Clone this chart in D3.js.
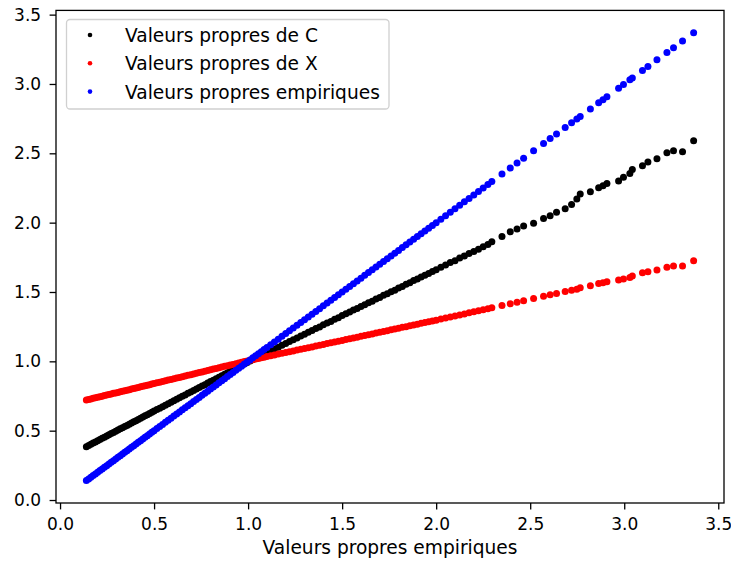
<!DOCTYPE html>
<html>
<head>
<meta charset="utf-8">
<script src="https://cdn.jsdelivr.net/npm/d3@7"></script>
<style>
  html, body { margin: 0; padding: 0; background: #fff; }
  svg { display: block; font-family: "DejaVu Sans", sans-serif; }
</style>
</head>
<body>
<svg id="chart" width="731" height="565"></svg>
<script>
// Empirical eigenvalues (x axis; also the y of the blue series)
const empirical = [
  0.140,0.152,0.164,0.176,0.188,0.200,0.212,0.224,0.236,0.248,0.260,0.272,0.284,0.296,0.308,0.320,
  0.332,0.344,0.356,0.368,0.380,0.392,0.404,0.416,0.428,0.440,0.452,0.464,0.476,0.488,0.500,
  0.515,0.530,0.545,0.560,0.575,0.590,0.605,0.620,0.635,0.650,0.665,0.680,0.695,0.710,0.725,0.740,
  0.755,0.770,0.785,0.800,0.815,0.830,0.845,0.860,0.875,0.890,0.905,0.920,0.935,0.950,0.965,0.980,
  0.995,1.010,1.025,1.040,1.055,1.070,1.085,1.100,
  1.12,1.14,1.16,1.18,1.20,1.22,1.24,1.26,1.28,1.30,1.32,1.34,1.36,1.38,1.40,1.42,1.44,1.46,1.48,1.50,
  1.52,1.54,1.56,1.58,1.60,1.62,1.64,1.66,1.68,1.70,1.72,1.74,1.76,1.78,1.80,1.82,1.84,1.86,1.88,1.90,
  1.92,1.94,1.96,1.98,2.00,
  2.025,2.05,2.075,2.10,2.125,2.15,2.175,2.20,2.225,2.25,2.275,
  2.296,2.350,2.394,2.430,2.465,2.518,2.571,2.606,2.640,2.686,2.720,2.748,2.766,2.820,2.864,2.887,
  2.908,2.970,2.996,3.030,3.043,3.097,3.126,3.174,3.227,3.262,3.310,3.369
];

// Eigenvalues of C (black)
const eigC = [
  0.385,0.394,0.402,0.411,0.419,0.428,0.436,0.445,0.453,0.462,0.470,0.479,0.487,0.496,0.504,0.513,
  0.521,0.530,0.538,0.547,0.555,0.564,0.572,0.581,0.589,0.598,0.607,0.615,0.624,0.632,0.641,
  0.652,0.662,0.673,0.684,0.694,0.705,0.716,0.726,0.737,0.748,0.758,0.769,0.779,0.790,0.801,0.811,
  0.822,0.832,0.843,0.854,0.864,0.875,0.886,0.896,0.907,0.917,0.928,0.939,0.949,0.960,0.971,0.981,
  0.992,1.002,1.012,1.022,1.032,1.042,1.052,1.062,
  1.075,1.089,1.101,1.116,1.128,1.143,1.155,1.169,1.183,1.195,1.210,1.222,1.237,1.248,1.263,1.276,
  1.288,1.303,1.315,1.330,1.343,1.355,1.370,1.381,1.396,1.408,1.423,1.434,1.449,1.461,1.476,1.487,
  1.502,1.513,1.529,1.540,1.555,1.566,1.582,1.593,1.608,1.620,1.633,1.647,1.661,
  1.678,1.694,1.712,1.726,1.745,1.759,1.778,1.792,1.808,1.826,1.842,
  1.862,1.900,1.934,1.955,1.975,1.995,2.030,2.050,2.075,2.100,2.130,2.170,2.206,2.223,2.252,2.266,
  2.283,2.300,2.327,2.355,2.384,2.410,2.437,2.461,2.504,2.518,2.511,2.591
];

// Eigenvalues of X (red)
const eigX = [
  0.721,0.725,0.729,0.733,0.737,0.741,0.745,0.749,0.753,0.757,0.761,0.765,0.769,0.772,0.776,0.780,
  0.784,0.788,0.792,0.796,0.800,0.804,0.808,0.812,0.816,0.820,0.824,0.828,0.832,0.836,0.840,
  0.845,0.850,0.855,0.860,0.865,0.869,0.874,0.879,0.884,0.889,0.894,0.899,0.904,0.909,0.914,0.919,
  0.924,0.929,0.934,0.939,0.944,0.949,0.954,0.959,0.964,0.968,0.973,0.978,0.983,0.988,0.993,0.998,
  1.003,1.008,1.012,1.017,1.021,1.026,1.030,1.034,
  1.040,1.046,1.052,1.058,1.063,1.069,1.075,1.081,1.087,1.093,1.098,1.104,1.110,1.116,1.122,1.128,
  1.134,1.139,1.145,1.151,1.157,1.163,1.169,1.174,1.180,1.186,1.192,1.198,1.204,1.210,1.215,1.221,
  1.227,1.233,1.239,1.245,1.250,1.256,1.262,1.268,1.274,1.280,1.286,1.291,1.297,
  1.305,1.312,1.320,1.327,1.335,1.342,1.350,1.357,1.365,1.372,1.380,
  1.386,1.402,1.415,1.426,1.437,1.453,1.469,1.480,1.490,1.503,1.512,1.520,1.531,1.545,1.562,1.567,
  1.574,1.586,1.593,1.605,1.615,1.639,1.646,1.658,1.678,1.687,1.687,1.725
];

const tickValues = [0.0, 0.5, 1.0, 1.5, 2.0, 2.5, 3.0, 3.5];
const seriesNames = ["Valeurs propres de C", "Valeurs propres de X", "Valeurs propres empiriques"];
const seriesColors = ["#000000", "#ff0000", "#0000ff"];
const xLabel = "Valeurs propres empiriques";

(function () {
  const svg = d3.select("#chart");
  const pLeft = 56, pRight = 724, pTop = 10.4, pBottom = 503;
  const fontPx = "18.6px";
  const tickFontPx = "17px";

  const x = d3.scaleLinear().domain([-0.0215, 3.5305]).range([pLeft, pRight]);
  const y = d3.scaleLinear().domain([-0.0215, 3.5305]).range([pBottom, pTop]);

  const series = [
    empirical.map((v, i) => [v, eigC[i]]),
    empirical.map((v, i) => [v, eigX[i]]),
    empirical.map((v) => [v, v])
  ];

  const plot = svg.append("g");
  series.forEach((pts, k) => {
    plot.append("g").selectAll("circle").data(pts).join("circle")
      .attr("cx", d => x(d[0]))
      .attr("cy", d => y(d[1]))
      .attr("r", 3.5)
      .attr("fill", seriesColors[k]);
  });

  // Frame
  svg.append("rect")
    .attr("x", pLeft).attr("y", pTop)
    .attr("width", pRight - pLeft).attr("height", pBottom - pTop)
    .attr("fill", "none").attr("stroke", "#000").attr("stroke-width", 1.3);

  // Axes
  const fmt = d3.format(".1f");
  const xAxis = svg.append("g").attr("transform", `translate(0,${pBottom})`)
    .call(d3.axisBottom(x).tickValues(tickValues).tickFormat(fmt).tickSize(6.4).tickSizeOuter(0).tickPadding(8.5));
  const yAxis = svg.append("g").attr("transform", `translate(${pLeft},0)`)
    .call(d3.axisLeft(y).tickValues(tickValues).tickFormat(fmt).tickSize(6.4).tickSizeOuter(0).tickPadding(8.5));
  [xAxis, yAxis].forEach(a => {
    a.select(".domain").remove();
    a.selectAll("line").attr("stroke", "#000").attr("stroke-width", 1.3);
    a.selectAll("text").attr("fill", "#000").style("font-size", tickFontPx).style("font-family", "DejaVu Sans");
  });

  svg.append("text")
    .attr("x", (pLeft + pRight) / 2).attr("y", 554)
    .attr("text-anchor", "middle")
    .style("font-size", fontPx)
    .attr("fill", "#000")
    .text(xLabel);

  // Legend
  const lg = svg.append("g");
  lg.append("rect")
    .attr("x", 66.5).attr("y", 19.5).attr("width", 322.5).attr("height", 89.5)
    .attr("rx", 3.5).attr("ry", 3.5)
    .attr("fill", "#fff").attr("fill-opacity", 0.8)
    .attr("stroke", "#d0d0d0").attr("stroke-width", 1.3);
  seriesNames.forEach((name, i) => {
    const cy = 35 + i * 28.3;
    lg.append("circle").attr("cx", 90).attr("cy", cy).attr("r", 2.3).attr("fill", seriesColors[i]);
    lg.append("text").attr("x", 125).attr("y", cy + 7)
      .style("font-size", fontPx).attr("fill", "#000").text(name);
  });
})();
</script>
</body>
</html>
